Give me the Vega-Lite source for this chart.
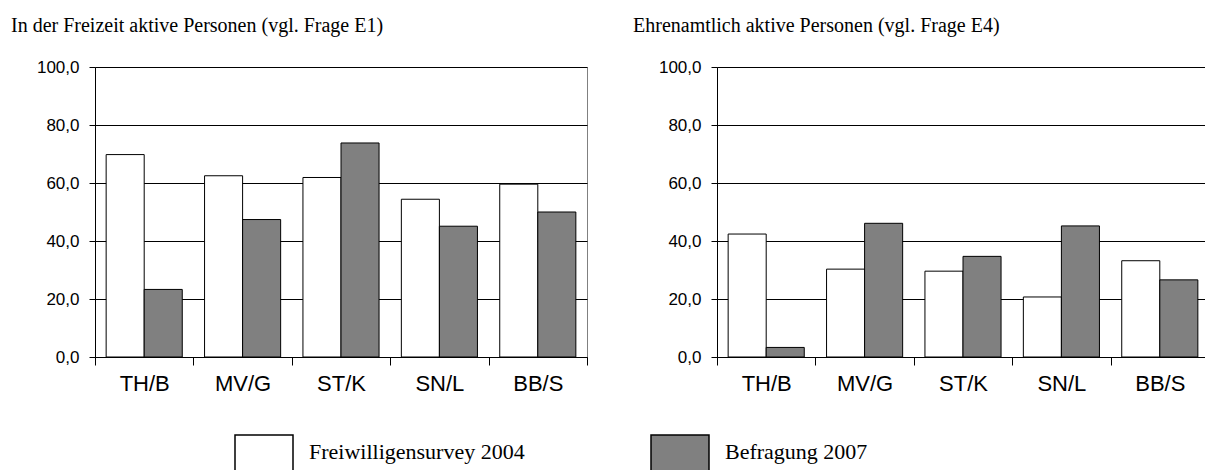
{
  "$schema": "https://vega.github.io/schema/vega-lite/v6.json",
  "padding": {"left": 10, "top": 15, "right": 0, "bottom": 0},
  "spacing": 44,
  "datasets": {
    "freizeit": [
      {"region": "TH/B", "quelle": "Freiwilligensurvey 2004", "wert": 69.8},
      {"region": "TH/B", "quelle": "Befragung 2007", "wert": 23.3},
      {"region": "MV/G", "quelle": "Freiwilligensurvey 2004", "wert": 62.5},
      {"region": "MV/G", "quelle": "Befragung 2007", "wert": 47.4},
      {"region": "ST/K", "quelle": "Freiwilligensurvey 2004", "wert": 61.9},
      {"region": "ST/K", "quelle": "Befragung 2007", "wert": 73.8},
      {"region": "SN/L", "quelle": "Freiwilligensurvey 2004", "wert": 54.4},
      {"region": "SN/L", "quelle": "Befragung 2007", "wert": 45.1},
      {"region": "BB/S", "quelle": "Freiwilligensurvey 2004", "wert": 59.6},
      {"region": "BB/S", "quelle": "Befragung 2007", "wert": 50.0}
    ],
    "ehrenamt": [
      {"region": "TH/B", "quelle": "Freiwilligensurvey 2004", "wert": 42.4},
      {"region": "TH/B", "quelle": "Befragung 2007", "wert": 3.3},
      {"region": "MV/G", "quelle": "Freiwilligensurvey 2004", "wert": 30.3},
      {"region": "MV/G", "quelle": "Befragung 2007", "wert": 46.1},
      {"region": "ST/K", "quelle": "Freiwilligensurvey 2004", "wert": 29.6},
      {"region": "ST/K", "quelle": "Befragung 2007", "wert": 34.7},
      {"region": "SN/L", "quelle": "Freiwilligensurvey 2004", "wert": 20.7},
      {"region": "SN/L", "quelle": "Befragung 2007", "wert": 45.2},
      {"region": "BB/S", "quelle": "Freiwilligensurvey 2004", "wert": 33.2},
      {"region": "BB/S", "quelle": "Befragung 2007", "wert": 26.6}
    ]
  },
  "hconcat": [
    {
      "width": 492,
      "height": 290,
      "title": {"text": "In der Freizeit aktive Personen (vgl. Frage E1)"},
      "data": {"name": "freizeit"},
      "mark": {"type": "bar", "stroke": "black", "strokeWidth": 1},
      "encoding": {
        "x": {"field": "region", "type": "nominal", "sort": ["TH/B", "MV/G", "ST/K", "SN/L", "BB/S"], "scale": {"paddingInner": 0, "paddingOuter": 0}, "axis": {"title": null, "labelAngle": 0, "tickBand": "extent", "tickSize": 8, "labelFontSize": 22, "labelPadding": 8, "grid": false}},
        "xOffset": {"field": "quelle", "type": "nominal", "sort": ["Freiwilligensurvey 2004", "Befragung 2007"], "scale": {"paddingInner": 0, "paddingOuter": 0.293}},
        "y": {"field": "wert", "type": "quantitative", "scale": {"domain": [0, 100]}, "axis": {"title": null, "values": [0, 20, 40, 60, 80, 100], "tickSize": 6, "labelFontSize": 17, "labelPadding": 10, "minExtent": 84, "maxExtent": 84, "grid": true, "labelExpr": "replace(format(datum.value, '.1f'), '.', ',')"}},
        "fill": {"field": "quelle", "type": "nominal", "scale": {"domain": ["Freiwilligensurvey 2004", "Befragung 2007"], "range": ["#ffffff", "#808080"]}}
      }
    },
    {
      "width": 492,
      "height": 290,
      "title": {"text": "Ehrenamtlich aktive Personen (vgl. Frage E4)"},
      "data": {"name": "ehrenamt"},
      "mark": {"type": "bar", "stroke": "black", "strokeWidth": 1},
      "encoding": {
        "x": {"field": "region", "type": "nominal", "sort": ["TH/B", "MV/G", "ST/K", "SN/L", "BB/S"], "scale": {"paddingInner": 0, "paddingOuter": 0}, "axis": {"title": null, "labelAngle": 0, "tickBand": "extent", "tickSize": 8, "labelFontSize": 22, "labelPadding": 8, "grid": false}},
        "xOffset": {"field": "quelle", "type": "nominal", "sort": ["Freiwilligensurvey 2004", "Befragung 2007"], "scale": {"paddingInner": 0, "paddingOuter": 0.293}},
        "y": {"field": "wert", "type": "quantitative", "scale": {"domain": [0, 100]}, "axis": {"title": null, "values": [0, 20, 40, 60, 80, 100], "tickSize": 6, "labelFontSize": 17, "labelPadding": 10, "minExtent": 84, "maxExtent": 84, "grid": true, "labelExpr": "replace(format(datum.value, '.1f'), '.', ',')"}},
        "fill": {"field": "quelle", "type": "nominal", "scale": {"domain": ["Freiwilligensurvey 2004", "Befragung 2007"], "range": ["#ffffff", "#808080"]}}
      }
    }
  ],
  "resolve": {"scale": {"fill": "shared"}},
  "config": {
    "font": "Liberation Sans",
    "background": "white",
    "view": {"stroke": "#808080", "strokeWidth": 1},
    "axis": {"domainColor": "black", "tickColor": "black", "labelColor": "black", "gridColor": "black", "gridWidth": 1, "domainWidth": 1, "tickWidth": 1, "labelFont": "Liberation Sans"},
    "title": {"anchor": "start", "frame": "bounds", "font": "Liberation Serif", "fontSize": 20, "fontWeight": "normal", "color": "black", "offset": 22},
    "legend": {"orient": "none", "legendX": 139, "legendY": 367, "direction": "horizontal", "title": null, "symbolType": "square", "symbolSize": 3364, "symbolStrokeColor": "black", "symbolStrokeWidth": 1.5, "labelFont": "Liberation Serif", "labelFontSize": 22, "labelColor": "black", "labelLimit": 400, "labelOffset": 15, "labelBaseline": "bottom", "columnPadding": 123, "padding": 0}
  }
}
